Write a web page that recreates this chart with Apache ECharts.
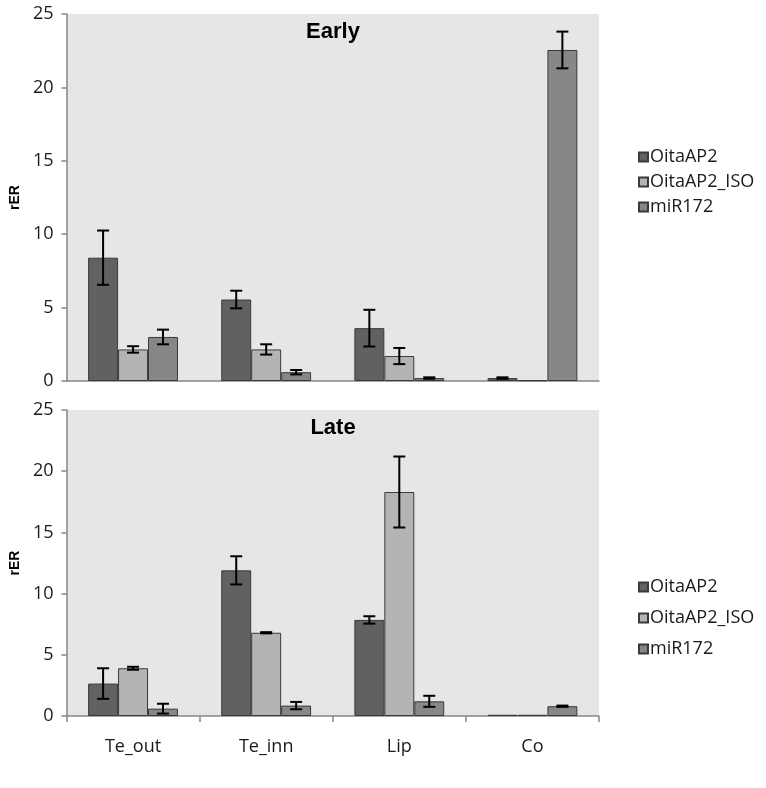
<!DOCTYPE html>
<html>
<head>
<meta charset="utf-8">
<script src="https://cdn.jsdelivr.net/npm/echarts@6/dist/echarts.min.js"></script>
<style>html,body{margin:0;padding:0;background:#fff}#c{width:766px;height:788px}</style>
</head>
<body>
<div id="c"></div>
<script>
const categories = ['Te_out', 'Te_inn', 'Lip', 'Co'];
const seriesNames = ['OitaAP2', 'OitaAP2_ISO', 'miR172'];
const panelTitles = ['Early', 'Late'];
const yTicks = [0, 5, 10, 15, 20, 25];

const earlyOitaAP2 = [8.4, 5.55, 3.6, 0.2];
const earlyOitaAP2Err = [1.85, 0.6, 1.25, 0.05];
const earlyISO = [2.15, 2.15, 1.7, 0.05];
const earlyISOErr = [0.22, 0.35, 0.55, 0];
const earlyMiR172 = [3.0, 0.6, 0.2, 22.55];
const earlyMiR172Err = [0.5, 0.15, 0.05, 1.25];

const lateOitaAP2 = [2.65, 11.9, 7.85, 0.1];
const lateOitaAP2Err = [1.25, 1.15, 0.3, 0];
const lateISO = [3.9, 6.8, 18.3, 0.1];
const lateISOErr = [0.12, 0.05, 2.9, 0];
const lateMiR172 = [0.6, 0.85, 1.2, 0.8];
const lateMiR172Err = [0.4, 0.3, 0.45, 0.05];

const colors = ['#616161', '#b4b4b4', '#878787'];
const BAR_FRAC = 0.225;
const FONT = 'Open Sans';

const panels = [
  { vals: [earlyOitaAP2, earlyISO, earlyMiR172], errs: [earlyOitaAP2Err, earlyISOErr, earlyMiR172Err] },
  { vals: [lateOitaAP2, lateISO, lateMiR172], errs: [lateOitaAP2Err, lateISOErr, lateMiR172Err] }
];

const chart = echarts.init(document.getElementById('c'), null, { renderer: 'canvas' });

const grids = [
  { left: 64, top: 14, width: 535, height: 367, show: true, backgroundColor: '#e6e6e6', borderWidth: 0 },
  { left: 64, top: 410, width: 535, height: 306, show: true, backgroundColor: '#e6e6e6', borderWidth: 0 }
];

const axisColor = '#868686';
const xAxes = [0, 1].map(g => ({
  type: 'category', gridIndex: g, data: categories,
  axisLine: { show: true, lineStyle: { color: axisColor, width: 1.5 } },
  axisTick: { show: g === 1, length: 6, alignWithLabel: false, lineStyle: { color: axisColor, width: 1.5 } },
  axisLabel: { show: g === 1, fontFamily: FONT, fontSize: 18, color: '#1a1a1a', margin: 22 },
  splitLine: { show: false }
}));
const yAxes = [0, 1].map(g => ({
  type: 'value', gridIndex: g, min: yTicks[0], max: yTicks[yTicks.length - 1], interval: yTicks[1] - yTicks[0],
  name: 'rER', nameLocation: 'middle', nameGap: 43,
  nameTextStyle: { fontFamily: 'Liberation Sans', fontWeight: 'bold', fontSize: 14, color: '#000' },
  axisLine: { show: true, lineStyle: { color: axisColor, width: 1.5 } },
  axisTick: { show: true, length: 5, lineStyle: { color: axisColor, width: 1.5 } },
  axisLabel: { fontFamily: FONT, fontSize: 18, color: '#1a1a1a', margin: 13 },
  splitLine: { show: false }
}));

const series = [];
panels.forEach((p, g) => {
  p.vals.forEach((arr, s) => {
    series.push({
      name: seriesNames[s], type: 'bar', xAxisIndex: g, yAxisIndex: g,
      data: arr, barWidth: (BAR_FRAC * 100) + '%', barGap: '0%',
      itemStyle: { color: colors[s], borderColor: '#3a3a3a', borderWidth: 1 },
      silent: true
    });
  });
  p.vals.forEach((arr, s) => {
    series.push({
      type: 'custom', xAxisIndex: g, yAxisIndex: g, z: 10, silent: true,
      data: arr.map((v, i) => [i, v, p.errs[s][i]]),
      encode: { x: 0, y: 1 },
      renderItem: function (params, api) {
        const i = api.value(0), v = api.value(1), e = api.value(2);
        if (!e) return null;
        const band = api.size([1, 0])[0];
        const off = (s - 1) * band * BAR_FRAC;
        const t = api.coord([i, v + e]);
        const b = api.coord([i, v - e]);
        const x = t[0] + off, hw = 6;
        const st = { stroke: '#000', lineWidth: 2 };
        return {
          type: 'group', children: [
            { type: 'line', shape: { x1: x, y1: t[1], x2: x, y2: b[1] }, style: st },
            { type: 'line', shape: { x1: x - hw, y1: t[1], x2: x + hw, y2: t[1] }, style: st },
            { type: 'line', shape: { x1: x - hw, y1: b[1], x2: x + hw, y2: b[1] }, style: st }
          ]
        };
      }
    });
  });
});

const legendBase = {
  orient: 'vertical', left: 633, data: seriesNames, icon: 'rect',
  itemWidth: 9, itemHeight: 9, selectedMode: false,
  textStyle: { fontFamily: FONT, fontSize: 18, lineHeight: 18, color: '#1a1a1a', padding: [0, 0, 0, -3] }
};

chart.setOption({
  animation: false,
  backgroundColor: '#fff',
  title: [
    { text: panelTitles[0], left: 328, top: 16, textAlign: 'center', textStyle: { fontFamily: 'Liberation Sans', fontWeight: 'bold', fontSize: 22, color: '#000' } },
    { text: panelTitles[1], left: 328, top: 412, textAlign: 'center', textStyle: { fontFamily: 'Liberation Sans', fontWeight: 'bold', fontSize: 22, color: '#000' } }
  ],
  legend: [
    Object.assign({}, legendBase, { top: 143, itemGap: 7 }),
    Object.assign({}, legendBase, { top: 573, itemGap: 13 })
  ],
  grid: grids,
  xAxis: xAxes,
  yAxis: yAxes,
  series: series
});
</script>
</body>
</html>
